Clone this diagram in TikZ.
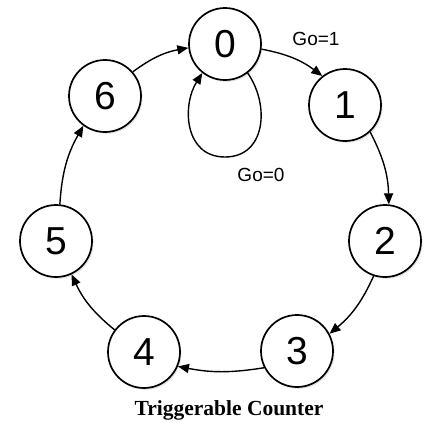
\documentclass[tikz,border=0pt]{standalone}
\usepackage{fontspec}
\setmainfont{Liberation Serif}
\newfontfamily\arialfont{Liberation Sans}
\usetikzlibrary{arrows.meta,shadows}
\begin{document}
\begin{tikzpicture}[x=1pt,y=-1pt,
  state/.style={circle,draw,line width=1.7pt,minimum size=72pt,inner sep=0pt,fill=white,
    font=\arialfont\fontsize{39}{39}\selectfont,
    drop shadow={opacity=0.22,shadow xshift=1.5pt,shadow yshift=-1.8pt}},
  edge/.style={line width=1.4pt,-{Triangle[length=11pt,width=9pt]}},
  lbl/.style={font=\arialfont\fontsize{19}{19}\selectfont,inner sep=0pt,anchor=base}]
\useasboundingbox (0,0) rectangle (436,442);
\node[state] (n0) at (225,44) {0};
\node[state] (n1) at (345,105) {1};
\node[state] (n2) at (385,241) {2};
\node[state] (n3) at (297,351) {3};
\node[state] (n4) at (144,352) {4};
\node[state] (n5) at (56,241) {5};
\node[state] (n6) at (105,96) {6};
\draw[edge] (n0.-8) to[bend left=13] (n1.128);
\draw[edge] (n1.-47) to[bend left=13] (n2.84);
\draw[edge] (n2.-108) to[bend left=13] (n3.28);
\draw[edge] (n3.-153) to[bend left=10] (n4.-23);
\draw[edge] (n4.143) to[bend left=13] (n5.-65);
\draw[edge] (n5.84) to[bend left=13] (n6.-126);
\draw[edge] (n6.41) to[bend left=13] (n0.186);
\draw[edge] (n0.-52) .. controls (270,105) and (266,157) .. (225,157)
  .. controls (184,157) and (182,105) .. (n0.-128);
\node[lbl] (g1) at (316,45) {Go=1};
\node[lbl] (g0) at (261,181) {Go=0};
\node[font=\bfseries\fontsize{21.5}{21.5}\selectfont,inner sep=0pt,anchor=base] (title) at (229,415) {Triggerable Counter};
\end{tikzpicture}
\end{document}
